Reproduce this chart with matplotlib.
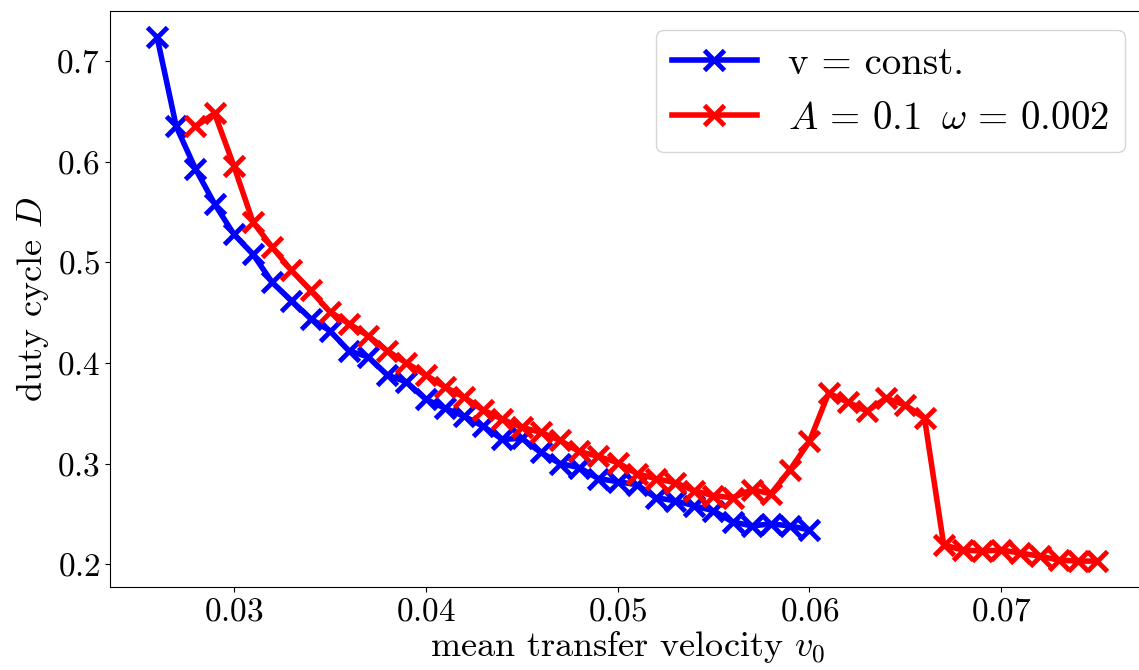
import matplotlib
matplotlib.use("Agg")
import matplotlib.pyplot as plt

plt.rcParams['font.family'] = 'serif'
plt.rcParams['font.serif'] = ['cmr10']
plt.rcParams['mathtext.fontset'] = 'cm'
plt.rcParams['axes.formatter.use_mathtext'] = True

# constant velocity
v_const_x = [0.026, 0.027, 0.028, 0.029, 0.030, 0.031, 0.032, 0.033, 0.034, 0.035,
             0.036, 0.037, 0.038, 0.039, 0.040, 0.041, 0.042, 0.043, 0.044, 0.045,
             0.046, 0.047, 0.048, 0.049, 0.050, 0.051, 0.052, 0.053, 0.054, 0.055,
             0.056, 0.057, 0.058, 0.059, 0.060]
v_const_D = [0.724, 0.635, 0.593, 0.558, 0.528, 0.508, 0.480, 0.462, 0.444, 0.432,
             0.412, 0.406, 0.388, 0.381, 0.364, 0.355, 0.347, 0.337, 0.324, 0.325,
             0.311, 0.300, 0.296, 0.285, 0.282, 0.279, 0.266, 0.263, 0.258, 0.253,
             0.242, 0.238, 0.240, 0.238, 0.234]

# oscillating velocity, A = 0.1, omega = 0.002
osc_x = [0.028, 0.029, 0.030, 0.031, 0.032, 0.033, 0.034, 0.035, 0.036, 0.037,
         0.038, 0.039, 0.040, 0.041, 0.042, 0.043, 0.044, 0.045, 0.046, 0.047,
         0.048, 0.049, 0.050, 0.051, 0.052, 0.053, 0.054, 0.055, 0.056, 0.057,
         0.058, 0.059, 0.060, 0.061, 0.062, 0.063, 0.064, 0.065, 0.066, 0.067,
         0.068, 0.069, 0.070, 0.071, 0.072, 0.073, 0.074, 0.075]
osc_D = [0.635, 0.648, 0.596, 0.540, 0.515, 0.492, 0.472, 0.451, 0.439, 0.427,
         0.412, 0.400, 0.388, 0.376, 0.366, 0.353, 0.344, 0.336, 0.331, 0.323,
         0.312, 0.307, 0.301, 0.290, 0.285, 0.281, 0.273, 0.268, 0.266, 0.274,
         0.270, 0.294, 0.322, 0.370, 0.361, 0.352, 0.365, 0.358, 0.345, 0.219,
         0.214, 0.213, 0.214, 0.211, 0.208, 0.204, 0.203, 0.203]

fig = plt.figure(figsize=(11.39, 6.70), dpi=100)
ax = fig.add_axes([0.0966, 0.1234, 0.908, 0.8606])

ax.plot(v_const_x, v_const_D, color='blue', marker='x', lw=4, ms=14, mew=3.5,
        label='v = const.')
ax.plot(osc_x, osc_D, color='red', marker='x', lw=4, ms=14, mew=3.5,
        label=r'$A\,=\,0.1\;\;\omega\,=\,0.002$')

ax.set_xlabel(r'mean transfer velocity $v_0$', fontsize=26, labelpad=2)
ax.set_ylabel(r'duty cycle $D$', fontsize=26)
ax.tick_params(labelsize=24)
ax.set_xticks([0.03, 0.04, 0.05, 0.06, 0.07])
ax.set_yticks([0.2, 0.3, 0.4, 0.5, 0.6, 0.7])
ax.legend(loc='upper right', fontsize=28, handlelength=2.2)

fig.savefig("out.png", dpi=100)
